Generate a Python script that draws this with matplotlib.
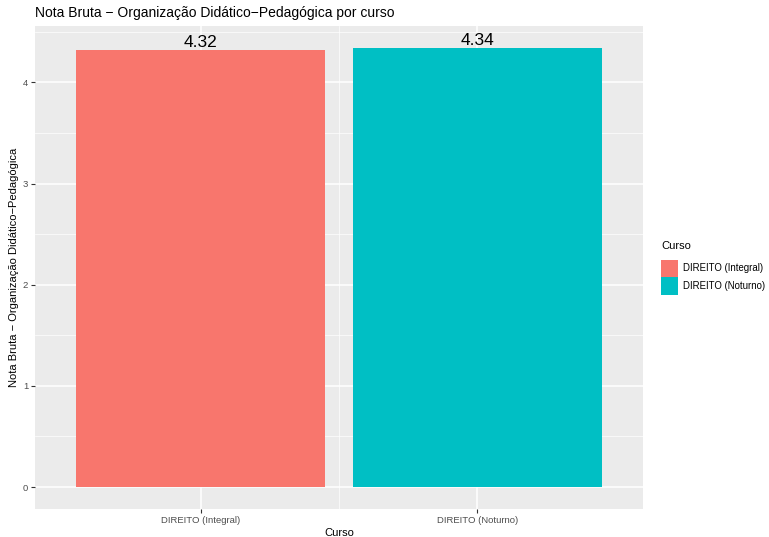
import matplotlib
matplotlib.use('agg')
import matplotlib.pyplot as plt
from matplotlib.patches import Patch
from matplotlib.ticker import MultipleLocator

plt.rcParams['font.family'] = ['Liberation Sans', 'DejaVu Sans']

# Data
cursos = ["DIREITO (Integral)", "DIREITO (Noturno)"]
notas = [4.32, 4.34]
cores = ["#F8766D", "#00BFC4"]

fig = plt.figure(figsize=(7.69, 5.37), dpi=100)
ax = fig.add_axes([35 / 769, 1 - 509 / 537, 608 / 769, 483 / 537])

x_pos = list(range(1, len(cursos) + 1))
ax.bar(x_pos, notas, width=0.9, color=cores, zorder=3)

# value labels above bars
for x, v in zip(x_pos, notas):
    ax.annotate(f"{v:.2f}", (x, v), xytext=(0, 0), textcoords="offset points",
                ha="center", va="bottom", fontsize=12.5, color="black", zorder=4)

# ggplot-like limits with 5% expansion
ymax = max(notas)
ax.set_ylim(-0.05 * ymax, ymax * 1.05)
ax.set_xlim(0.4, len(cursos) + 0.6)

ax.set_facecolor("#EBEBEB")
for s in ax.spines.values():
    s.set_visible(False)

ax.yaxis.set_major_locator(MultipleLocator(1))
ax.yaxis.set_minor_locator(MultipleLocator(0.5))
ax.set_xticks(x_pos)
ax.set_xticks([1.5], minor=True)
ax.set_xticklabels(cursos)
ax.grid(which="major", color="white", linewidth=1.1, zorder=0)
ax.grid(which="minor", color="white", linewidth=0.5, zorder=0)
ax.tick_params(which="major", length=3, width=0.8, color="#333333",
               labelsize=6.8, labelcolor="#4D4D4D", pad=2)
ax.tick_params(which="minor", length=0)

ax.set_xlabel("Curso", fontsize=8, labelpad=2)
ax.set_ylabel("Nota Bruta \u2212 Organização Didático\u2212Pedagógica", fontsize=8, labelpad=3)
fig.text(35 / 769, 1 - 13 / 537, "Nota Bruta \u2212 Organização Didático\u2212Pedagógica por curso",
         fontsize=10, ha="left", va="center")

# legend (title drawn separately to get ggplot spacing)
fig.text(661 / 769, 1 - 246 / 537, "Curso", fontsize=8, ha="left", va="center")
handles = [Patch(facecolor=c, edgecolor="none") for c in cores]
leg = fig.legend(handles, cursos, loc="upper left",
                 bbox_to_anchor=(657 / 769, 1 - 256 / 537), frameon=False,
                 fontsize=6.9, handlelength=1.8, handleheight=2.4,
                 handletextpad=0.55, labelspacing=0.02, borderaxespad=0)

fig.savefig("out.png", dpi=100)
